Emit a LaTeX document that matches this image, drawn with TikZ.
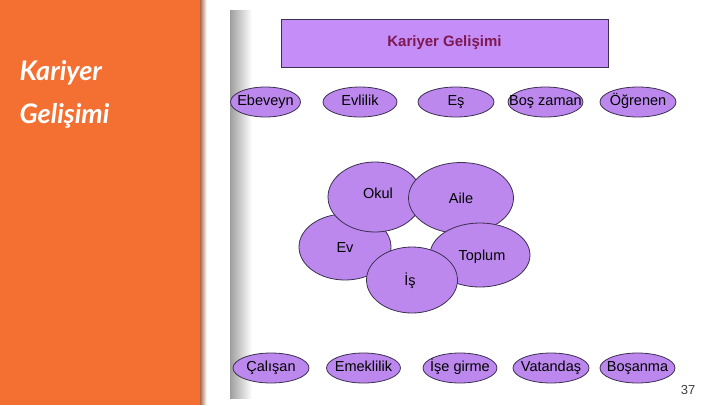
\documentclass[tikz,border=0pt]{standalone}
\usepackage{fontspec}
\setmainfont{Liberation Sans}
\newfontfamily\titlefont{Lato}
\definecolor{sideorange}{HTML}{F37032}
\definecolor{ovalfill}{HTML}{BC88EE}
\definecolor{rectfill}{HTML}{C58DF7}
\definecolor{ovaledge}{HTML}{3C3050}
\definecolor{titlered}{HTML}{7E1850}
\tikzset{
  ovaltext/.style={font=\fontsize{14.5}{16}\selectfont, text height=10.5pt, text depth=3pt, inner sep=0pt},
  ovalfillstyle/.style={fill=ovalfill},
  ovaldrawstyle/.style={draw=ovaledge, line width=0.8pt}
}
\newcommand{\myoval}[3]{%
  \fill[ovalfillstyle] #1 ellipse [x radius=#2, y radius=#3];
  \draw[ovaldrawstyle] #1 ellipse [x radius=#2, y radius=#3];}
\begin{document}
\begin{tikzpicture}[x=1pt,y=-1pt]
\useasboundingbox (0,0) rectangle (720,405);
\fill[white] (0,0) rectangle (720,405);
% orange side panel with shadow (stepped)
\foreach \i in {0,...,6} {
  \pgfmathsetmacro{\pct}{80-\i*12}
  \fill[sideorange!60!black!\pct!white] (200+\i,0) rectangle (201+\i,405);
}
\fill[sideorange] (0,0) rectangle (200,405);
\node[anchor=west, text=white, align=left, font=\titlefont\bfseries\itshape\fontsize{27}{43}\selectfont] (side) at (16,94) {Kariyer\\Gelişimi};
% image left gradient (stepped)
\foreach \i in {0,...,21} {
  \pgfmathsetmacro{\pct}{38-\i*1.75}
  \fill[black!\pct] (230+\i,10) rectangle (231.2+\i,399);
}
% title rectangle
\node[draw=ovaledge, line width=0.8pt, fill=rectfill, minimum width=327pt, minimum height=48pt, inner sep=0pt, text=titlered, font=\bfseries\fontsize{15}{17}\selectfont] (title) at (444.5,43) {Kariyer Gelişimi};
% top row
\myoval{(265.5,102)}{35}{15}
\myoval{(360,102)}{37}{15}
\myoval{(456,102)}{38}{15}
\myoval{(545.5,102)}{37.5}{15}
\myoval{(638,102)}{38}{15}
\node[ovaltext] (ebeveyn) at (265.5,102) {Ebeveyn};
\node[ovaltext] (evlilik) at (360,102) {Evlilik};
\node[ovaltext] (es) at (456,102) {Eş};
\node[ovaltext] (bos) at (545.5,102) {Boş zaman};
\node[ovaltext] (ogrenen) at (638,102) {Öğrenen};
% middle cluster
\myoval{(345,247)}{46}{33}
\myoval{(375,197)}{47}{35}
\myoval{(461,198)}{52.5}{35.5}
\myoval{(480,255)}{50}{32}
\myoval{(412,280)}{45.5}{33}
\node[ovaltext] (okul) at (378,195) {Okul};
\node[ovaltext] (aile) at (461,200) {Aile};
\node[ovaltext] (ev) at (345,249) {Ev};
\node[ovaltext] (toplum) at (482,257) {Toplum};
\node[ovaltext] (is) at (410,282) {İş};
% bottom row
\myoval{(271,368)}{38}{15}
\myoval{(363.5,368)}{37}{15}
\myoval{(460,368)}{37}{15}
\myoval{(551,368)}{38}{15}
\myoval{(637.5,368)}{37.5}{15}
\node[ovaltext] (calisan) at (271,368) {Çalışan};
\node[ovaltext] (emeklilik) at (363.5,368) {Emeklilik};
\node[ovaltext] (isegirme) at (460,368) {İşe girme};
\node[ovaltext] (vatandas) at (551,368) {Vatandaş};
\node[ovaltext] (bosanma) at (637.5,368) {Boşanma};
% page number
\node[text=black!75, font=\fontsize{13}{15}\selectfont] (page) at (688,390) {37};
\end{tikzpicture}
\end{document}
